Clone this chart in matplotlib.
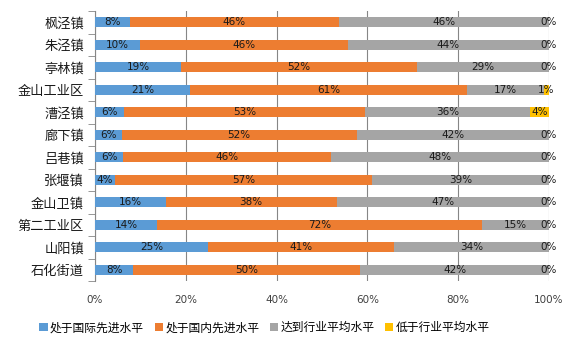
import matplotlib.pyplot as plt
import numpy as np

plt.rcParams['font.family'] = ['Noto Sans CJK SC', 'DejaVu Sans']

# 各镇/区，从上到下
towns = ['枫泾镇', '朱泾镇', '亭林镇', '金山工业区', '漕泾镇', '廊下镇',
         '吕巷镇', '张堰镇', '金山卫镇', '第二工业区', '山阳镇', '石化街道']
intl_adv = [7.7, 9.9, 18.9, 20.9, 6.4, 5.9, 6.2, 4.4, 15.6, 13.6, 24.9, 8.4]
dom_adv = [46.0, 45.8, 52.0, 61.0, 53.1, 51.7, 45.7, 56.6, 37.6, 71.6, 41.0, 50.0]
avg = [46.3, 44.3, 29.1, 17.0, 36.3, 42.4, 48.1, 39.0, 46.8, 14.8, 34.1, 41.6]
below = [0, 0, 0, 1.1, 4.2, 0, 0, 0, 0, 0, 0, 0]

series = ['处于国际先进水平', '处于国内先进水平', '达到行业平均水平', '低于行业平均水平']
colors = ['#5B9BD5', '#ED7D31', '#A5A5A5', '#FFC000']
xticks = [0, 20, 40, 60, 80, 100]

fig = plt.figure(figsize=(5.88, 3.47), dpi=100)
ax = fig.add_axes([0.1616, 0.190, 0.7721, 0.778])

y = np.arange(len(towns))
left = np.zeros(len(towns))
for name, vals, c in zip(series, [intl_adv, dom_adv, avg, below], colors):
    vals = np.array(vals)
    ax.barh(y, vals, left=left, height=0.45, color=c, label=name, zorder=3)
    for yi, l, v in zip(y, left, vals):
        ax.text(l + v / 2, yi, f'{round(v)}%', ha='center', va='center',
                fontsize=7.5, color='#1a1a1a', family='DejaVu Sans', zorder=4)
    left = left + vals

ax.set_xlim(0, 100)
ax.set_ylim(len(towns) - 0.5, -0.5)
ax.set_xticks(xticks)
ax.set_xticklabels([f'{t}%' for t in xticks], fontsize=7.5, color='#404040',
                   family='DejaVu Sans')
ax.tick_params(axis='x', length=0, pad=10)
ax.set_yticks(y)
ax.set_yticklabels(towns, fontsize=9.5, color='#1a1a1a')
ax.set_yticks(np.arange(len(towns) + 1) - 0.5, minor=True)
ax.tick_params(axis='y', which='major', length=0, pad=8)
ax.tick_params(axis='y', which='minor', length=5, color='#868686')
ax.grid(axis='x', color='#868686', linewidth=0.8, zorder=0)
for s in ['top', 'right', 'bottom']:
    ax.spines[s].set_visible(False)
ax.spines['left'].set_color('#868686')

fig.legend(loc='center', bbox_to_anchor=(0.45, 0.055), ncol=4, frameon=False,
           fontsize=8.5, handlelength=0.7, handleheight=0.7, handletextpad=0.2,
           columnspacing=0.9)

fig.savefig('out.png', dpi=100)
